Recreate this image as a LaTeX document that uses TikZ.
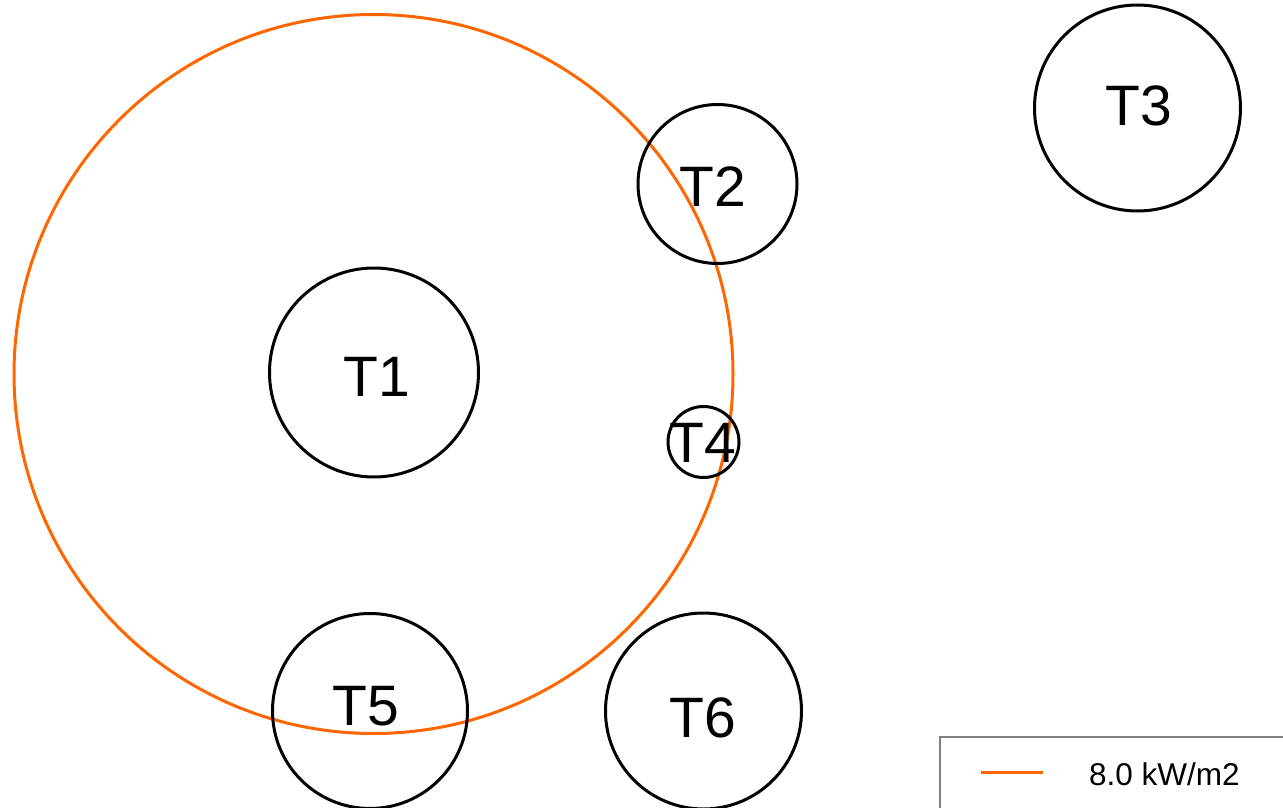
\documentclass[tikz,border=0pt]{standalone}
\usepackage{fontspec}
\setmainfont{Liberation Sans}
\definecolor{zoneorange}{RGB}{255,102,0}
\definecolor{legendgray}{RGB}{128,128,128}
\begin{document}
\begin{tikzpicture}[x=1pt,y=-1pt,
  tank/.style={circle,draw=black,line width=3pt,inner sep=0pt},
  tlabel/.style={font=\fontsize{57}{57}\selectfont,inner sep=0pt},
  zone/.style={circle,draw=zoneorange,line width=3pt,inner sep=0pt}]
\useasboundingbox (0,0) rectangle (1283,808);
\node[zone,minimum size=719pt] (z1) at (373.5,374) {};
\node[tank,minimum size=209pt] (t1) at (374,372.5) {};
\node[tank,minimum size=159pt] (t2) at (717.5,184) {};
\node[tank,minimum size=206pt] (t3) at (1137.5,108) {};
\node[tank,minimum size=71pt] (t4) at (703.5,442) {};
\node[tank,minimum size=195pt] (t5) at (370,711) {};
\node[tank,minimum size=196pt] (t6) at (703.5,711) {};
\node[tlabel] (l1) at (376.5,377) {T1};
\node[tlabel] (l2) at (713,187) {T2};
\node[tlabel] (l3) at (1139,106) {T3};
\node[tlabel] (l4) at (703,443) {T4};
\node[tlabel] (l5) at (365.5,706.5) {T5};
\node[tlabel] (l6) at (703,717.5) {T6};
\draw[draw=legendgray,line width=1.5pt,fill=white] (940,737) rectangle (1295,820);
\coordinate (la) at (981,772);
\coordinate (lb) at (1043,772);
\draw[zoneorange,line width=3pt] (la) -- (lb);
\node[anchor=base west,inner sep=0pt,font=\fontsize{31.5}{31.5}\selectfont] (leg) at (1089,785) {8.0 kW/m2};
\end{tikzpicture}
\end{document}
